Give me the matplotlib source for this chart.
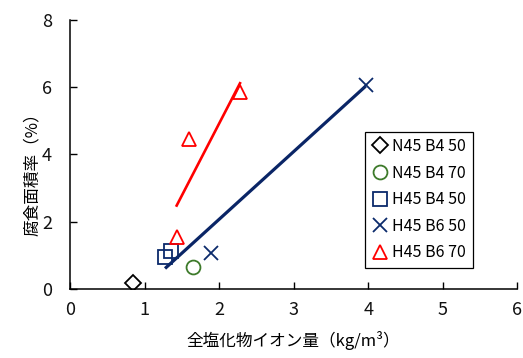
import matplotlib
matplotlib.use('Agg')
from matplotlib import pyplot as plt

plt.rcParams['font.family'] = ['Noto Sans CJK JP', 'DejaVu Sans']

# data
n45_b4_50_x = [0.85]
n45_b4_50_y = [0.19]
n45_b4_70_x = [1.65]
n45_b4_70_y = [0.65]
h45_b4_50_x = [1.28, 1.36]
h45_b4_50_y = [0.94, 1.14]
h45_b6_50_x = [1.89, 3.97]
h45_b6_50_y = [1.08, 6.07]
h45_b6_70_x = [1.43, 1.59, 2.28]
h45_b6_70_y = [1.53, 4.46, 5.85]

# trend lines (end points)
blue_fit_x = [1.29, 3.95]
blue_fit_y = [0.64, 6.0]
red_fit_x = [1.43, 2.28]
red_fit_y = [2.48, 6.12]

labels = ['N45 B4 50', 'N45 B4 70', 'H45 B4 50', 'H45 B6 50', 'H45 B6 70']

navy = '#0b2a6b'
green = '#3d7a2a'
red = '#ff0000'

fig = plt.figure(figsize=(5.23, 3.58), dpi=100)
ax = fig.add_axes([0.134, 0.193, 0.855, 0.751])

ax.plot(blue_fit_x, blue_fit_y, color='#0a2566', linewidth=2.3, zorder=2)
ax.plot(red_fit_x, red_fit_y, color=red, linewidth=1.9, zorder=2)

ms = 10
ax.plot(n45_b4_50_x, n45_b4_50_y, 'D', ms=8, mfc='none', mec='black', mew=1.3, linestyle='none', label=labels[0])
ax.plot(n45_b4_70_x, n45_b4_70_y, 'o', ms=ms, mfc='none', mec=green, mew=1.3, linestyle='none', label=labels[1])
ax.plot(h45_b4_50_x, h45_b4_50_y, 's', ms=ms, mfc='none', mec=navy, mew=1.3, linestyle='none', label=labels[2])
ax.plot(h45_b6_50_x, h45_b6_50_y, 'x', ms=ms, mfc='none', mec=navy, mew=1.3, linestyle='none', label=labels[3])
ax.plot(h45_b6_70_x, h45_b6_70_y, '^', ms=ms, mfc='none', mec=red, mew=1.3, linestyle='none', label=labels[4])

ax.set_xlim(0, 6)
ax.set_ylim(0, 8)
ax.set_xticks(range(0, 7))
ax.set_yticks(range(0, 9, 2))
ax.tick_params(direction='in', length=5, width=1, labelsize=13, labelcolor='#111111')
ax.tick_params(axis='x', pad=9)
ax.tick_params(axis='y', pad=13)
ax.spines['top'].set_visible(False)
ax.spines['right'].set_visible(False)
ax.spines['left'].set_linewidth(1.1)
ax.spines['bottom'].set_linewidth(1.1)

ax.set_xlabel('全塩化物イオン量（kg/m³）', fontsize=12, labelpad=8)
ax.set_ylabel('腐食面積率（%）', fontsize=12)
ax.yaxis.set_label_coords(-0.065, 0.44)

leg = ax.legend(loc='upper left', bbox_to_anchor=(0.66, 0.585), fontsize=11.5,
                frameon=True, fancybox=False, edgecolor='black', framealpha=1,
                handlelength=1.0, handletextpad=0.3, borderpad=0.4, labelspacing=0.6,
                borderaxespad=0)
leg.get_frame().set_linewidth(0.9)

fig.savefig('out.png', dpi=100)
